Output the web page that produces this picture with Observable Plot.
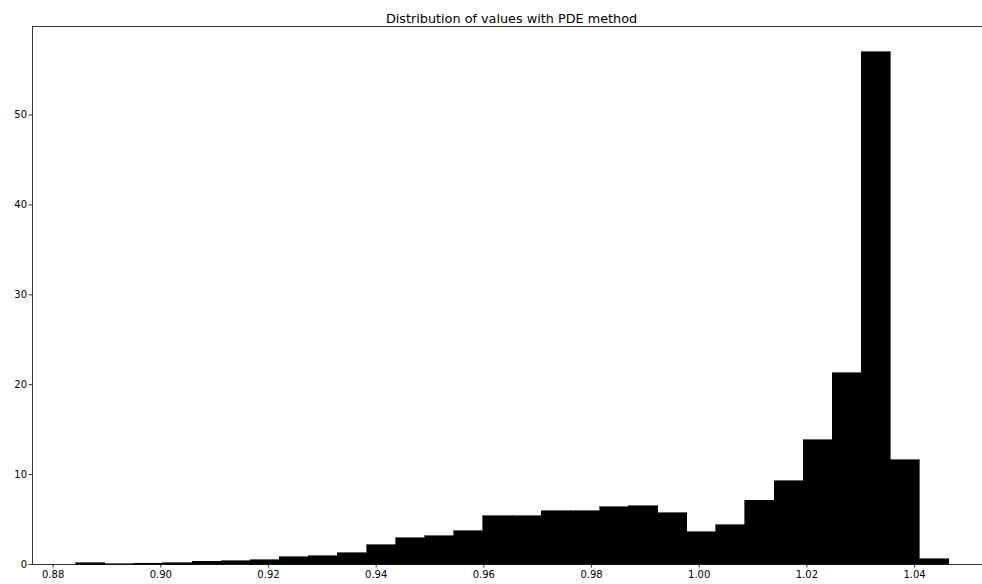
<!DOCTYPE html>
<html>
<head>
<meta charset="utf-8">
<script src="https://cdn.jsdelivr.net/npm/d3@7"></script>
<script src="https://cdn.jsdelivr.net/npm/@observablehq/plot@0.6"></script>
<style>
  html, body { margin: 0; padding: 0; background: #fff; }
  #chart svg { display: block; }
</style>
</head>
<body>
<div id="chart"></div>
<script>
const titleText = "Distribution of values with PDE method";

// histogram bin edges (31 edges -> 30 bins)
const binEdges = [
  0.8843, 0.8897, 0.8951, 0.9005, 0.9059, 0.9113, 0.9167, 0.9221, 0.9275, 0.9329,
  0.9383, 0.9437, 0.9491, 0.9545, 0.9599, 0.9654, 0.9708, 0.9762, 0.9816, 0.9870,
  0.9924, 0.9978, 1.0032, 1.0086, 1.0140, 1.0194, 1.0248, 1.0302, 1.0356, 1.0410,
  1.0464
];

// density value of each bin
const binHeights = [
  0.12, 0.05, 0.10, 0.15, 0.28, 0.36, 0.45, 0.82, 0.93, 1.27,
  2.12, 2.94, 3.13, 3.72, 5.36, 5.36, 5.92, 5.92, 6.36, 6.47,
  5.69, 3.57, 4.35, 7.07, 9.26, 13.84, 21.30, 57.00, 11.60, 0.56
];

const xTicks = [0.88, 0.90, 0.92, 0.94, 0.96, 0.98, 1.00, 1.02, 1.04];
const yTicks = [0, 10, 20, 30, 40, 50];

const xDomain = [0.87617, 1.05262];
const yDomain = [0, 59.85];

const bins = binHeights.map((h, i) => ({x1: binEdges[i], x2: binEdges[i + 1], y: h}));

const plot = Plot.plot({
  width: 982,
  height: 584,
  marginLeft: 32,
  marginRight: 0,
  marginTop: 26,
  marginBottom: 20,
  style: {fontFamily: "DejaVu Sans", fontSize: "10px", color: "#000", background: "#fff"},
  x: {domain: xDomain, ticks: xTicks, tickFormat: d3.format(".2f"), tickSize: 3.5, tickPadding: 3, label: null},
  y: {domain: yDomain, ticks: yTicks, tickSize: 3.5, tickPadding: 2, label: null},
  marks: [
    Plot.rectY(bins, {x1: "x1", x2: "x2", y1: 0, y2: "y", fill: "#000", stroke: "#000", strokeWidth: 0.6, shapeRendering: "crispEdges", insetLeft: 0, insetRight: 0}),
    Plot.ruleX([xDomain[0]], {stroke: "#000", strokeWidth: 0.8}),
    Plot.ruleY([0], {stroke: "#000", strokeWidth: 0.8}),
    Plot.ruleY([yDomain[1]], {stroke: "#000", strokeWidth: 0.8}),
    Plot.axisX({ticks: xTicks, tickFormat: d3.format(".2f"), tickSize: 3.5, tickPadding: 3, label: null, strokeWidth: 0.8}),
    Plot.axisY({ticks: yTicks, tickSize: 3.5, tickPadding: 2, label: null, strokeWidth: 0.8}),
    Plot.text([titleText], {frameAnchor: "top", dy: -13, dx: 4, text: d => d, fontSize: 12.8, fill: "#000"})
  ]
});
document.getElementById("chart").appendChild(plot);
</script>
</body>
</html>
